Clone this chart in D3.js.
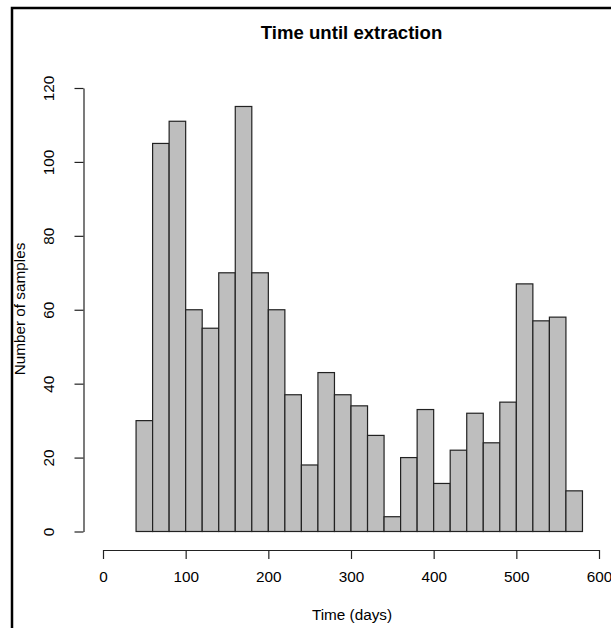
<!DOCTYPE html>
<html>
<head>
<meta charset="utf-8">
<script src="https://cdn.jsdelivr.net/npm/d3@7"></script>
<style>
  html, body { margin: 0; padding: 0; background: #fff; }
  svg { display: block; font-family: "Liberation Sans", Arial, Helvetica, sans-serif; }
</style>
</head>
<body>
<svg id="chart" width="611" height="628"></svg>
<script>
// Histogram of sample counts by time until extraction (20-day bins)
const binStart = 40;
const binWidth = 20;
const counts = [30, 105, 111, 60, 55, 70, 115, 70, 60, 37, 18, 43, 37, 34, 26,
                4, 20, 33, 13, 22, 32, 24, 35, 67, 57, 58, 11];
const xTicks = [0, 100, 200, 300, 400, 500, 600];
const yTicks = [0, 20, 40, 60, 80, 100, 120];
const titleText = "Time until extraction";
const xLabel = "Time (days)";
const yLabel = "Number of samples";

const bins = counts.map((c, i) => ({
  x0: binStart + i * binWidth,
  x1: binStart + (i + 1) * binWidth,
  count: c
}));

const svg = d3.select("#chart");
const labelSize = 15.3;

const x = d3.scaleLinear().domain([0, 600]).range([103, 599]);
const y = d3.scaleLinear().domain([0, 120]).range([531.5, 88]);

// figure frame (top and left edges)
svg.append("path")
  .attr("d", "M12,628 L12,8 L611,8")
  .attr("fill", "none")
  .attr("stroke", "#000")
  .attr("stroke-width", 2.5);

// bars
svg.append("g")
  .selectAll("rect")
  .data(bins)
  .join("rect")
  .attr("x", d => x(d.x0))
  .attr("y", d => y(d.count))
  .attr("width", d => x(d.x1) - x(d.x0))
  .attr("height", d => y(0) - y(d.count))
  .attr("fill", "#bebebe")
  .attr("stroke", "#222")
  .attr("stroke-width", 1.2);

// x axis
const xAxis = svg.append("g")
  .attr("transform", "translate(0,550)")
  .call(d3.axisBottom(x).tickValues(xTicks).tickSize(9).tickSizeOuter(0).tickPadding(12));
xAxis.select(".domain").attr("stroke", "#222").attr("stroke-width", 1.2);
xAxis.selectAll(".tick line").attr("stroke", "#222").attr("stroke-width", 1.2);
xAxis.selectAll(".tick text")
  .attr("font-size", labelSize)
  .attr("fill", "#000")
  .attr("font-family", "'Liberation Sans', Arial, sans-serif");

// y axis
const yAxis = svg.append("g")
  .attr("transform", "translate(83.5,0)")
  .call(d3.axisLeft(y).tickValues(yTicks).tickSize(9).tickSizeOuter(0));
yAxis.select(".domain").attr("stroke", "#222").attr("stroke-width", 1.2);
yAxis.selectAll(".tick line").attr("stroke", "#222").attr("stroke-width", 1.2);
yAxis.selectAll(".tick text")
  .attr("font-size", labelSize)
  .attr("fill", "#000")
  .attr("font-family", "'Liberation Sans', Arial, sans-serif")
  .attr("x", null)
  .attr("dy", null)
  .attr("text-anchor", "middle")
  .attr("transform", "translate(-30,0) rotate(-90)");

// title and axis labels
svg.append("text")
  .attr("x", 351.5)
  .attr("y", 39)
  .attr("text-anchor", "middle")
  .attr("font-size", 18.6)
  .attr("font-weight", "bold")
  .text(titleText);

svg.append("text")
  .attr("x", 352)
  .attr("y", 619.5)
  .attr("text-anchor", "middle")
  .attr("font-size", labelSize)
  .text(xLabel);

svg.append("text")
  .attr("transform", "translate(24.5,309) rotate(-90)")
  .attr("text-anchor", "middle")
  .attr("font-size", labelSize)
  .text(yLabel);
</script>
</body>
</html>
